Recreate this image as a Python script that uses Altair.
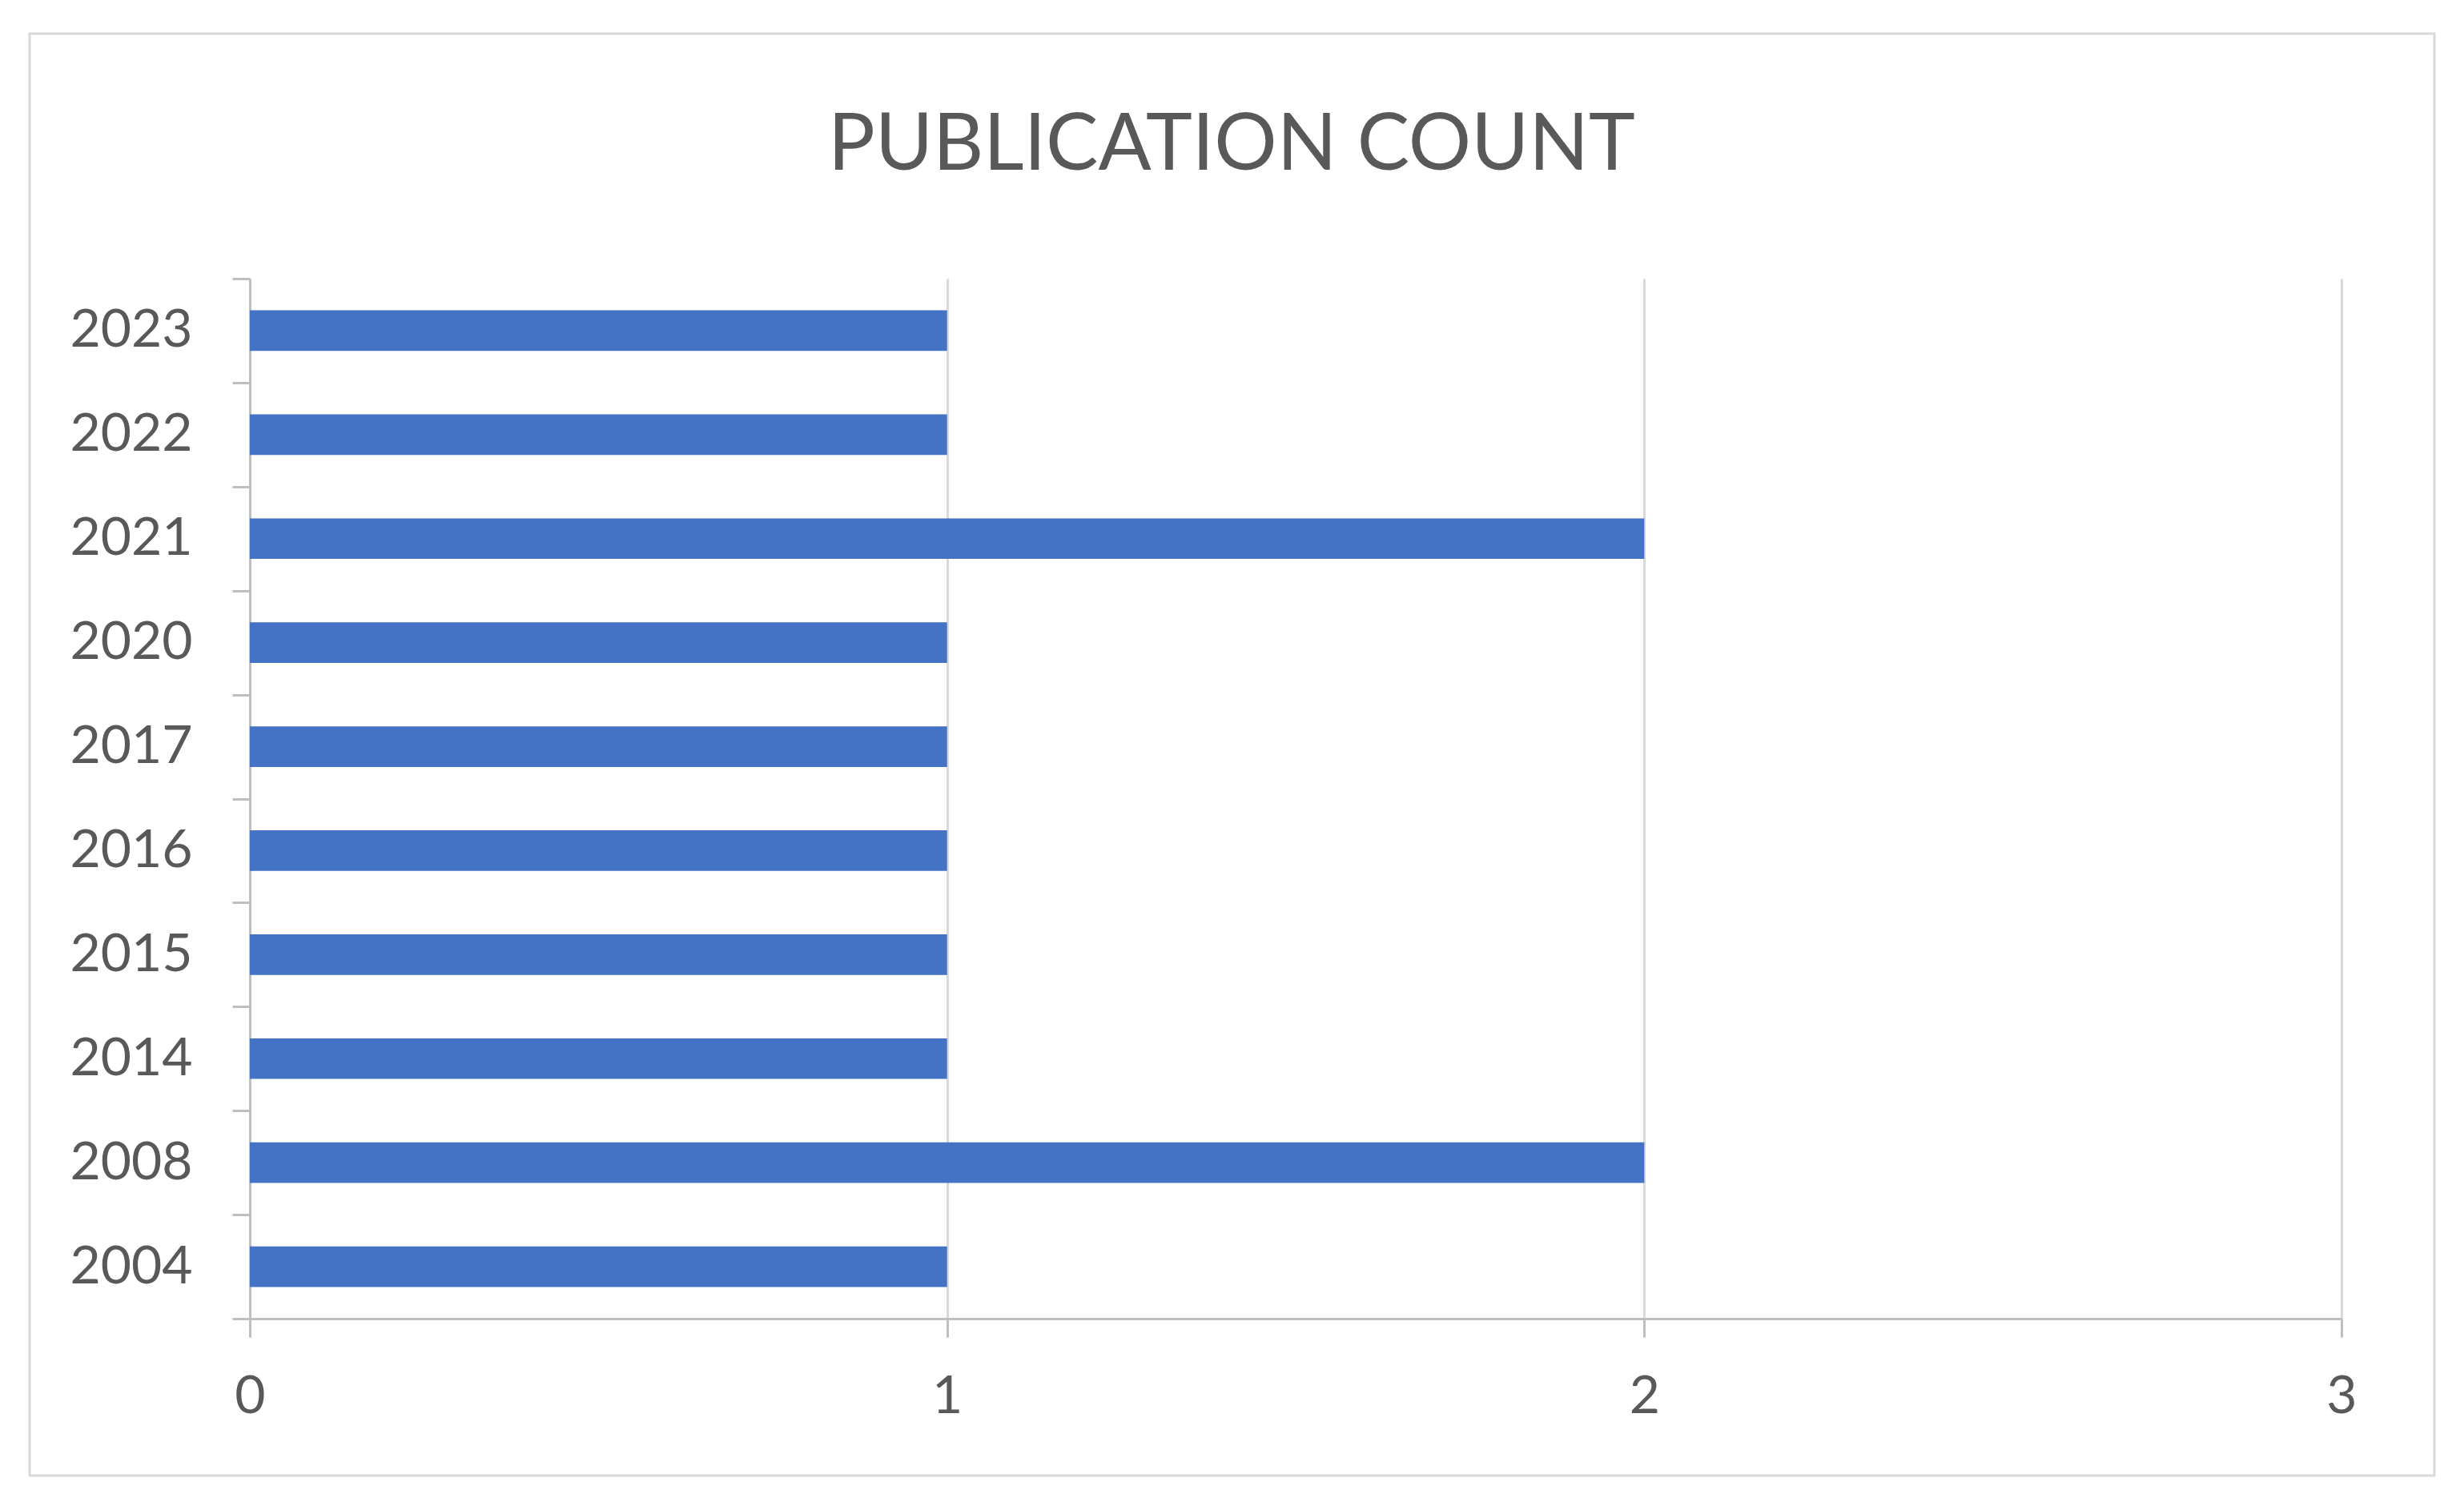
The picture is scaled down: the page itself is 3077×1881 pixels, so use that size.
import altair as alt
import pandas as pd

years = ["2023", "2022", "2021", "2020", "2017", "2016", "2015", "2014", "2008", "2004"]
counts = [1, 1, 2, 1, 1, 1, 1, 1, 2, 1]
x_ticks = [0, 1, 2, 3]
title_text = "PUBLICATION COUNT"

df = pd.DataFrame({"year": years, "count": counts})

FONT = "Lato"
TXT = "#595959"
LINE = "#bfbfbf"
GRID = "#d9d9d9"

bars = alt.Chart(df).mark_bar(height={"band": 0.39}, color="#4472C4").encode(
    y=alt.Y(
        "year:N",
        sort=years,
        title=None,
        scale=alt.Scale(paddingInner=0, paddingOuter=0),
        axis=alt.Axis(
            tickBand="extent",
            ticks=True,
            tickSize=22,
            tickWidth=3,
            tickColor=LINE,
            domainColor=LINE,
            domainWidth=3,
            labelFontSize=66,
            labelFont=FONT,
            labelColor=TXT,
            labelPadding=50,
            grid=False,
        ),
    ),
    x=alt.X(
        "count:Q",
        title=None,
        scale=alt.Scale(domain=[0, 3], nice=False),
        axis=alt.Axis(
            values=x_ticks,
            format="d",
            tickSize=23,
            tickWidth=3,
            tickColor=LINE,
            domainColor=LINE,
            domainWidth=3,
            grid=True,
            gridColor=GRID,
            gridWidth=3,
            labelFontSize=66,
            labelFont=FONT,
            labelColor=TXT,
            labelPadding=42,
            labelFlush=False,
        ),
    ),
)

one = alt.Data(values=[{"a": 1}])

border = alt.Chart(one).mark_rect(
    fillOpacity=0, stroke=GRID, strokeWidth=3
).encode(
    x=alt.value(-275),
    x2=alt.value(2728),
    y=alt.value(-306),
    y2=alt.value(1495),
)

title = alt.Chart(one).mark_text(
    text=title_text,
    font=FONT,
    fontSize=98,
    fontWeight="normal",
    color=TXT,
    align="center",
    baseline="alphabetic",
).encode(
    x=alt.value(1226),
    y=alt.value(-136),
)

chart = (
    alt.layer(bars, border, title)
    .properties(
        width=2612,
        height=1299,
        autosize=alt.AutoSizeParams(type="none"),
        padding={"left": 304, "top": 340, "right": 120, "bottom": 210},
        background="white",
    )
    .configure_view(strokeWidth=0)
)

chart.save("out.html", embed_options={"renderer": "svg", "actions": False})
